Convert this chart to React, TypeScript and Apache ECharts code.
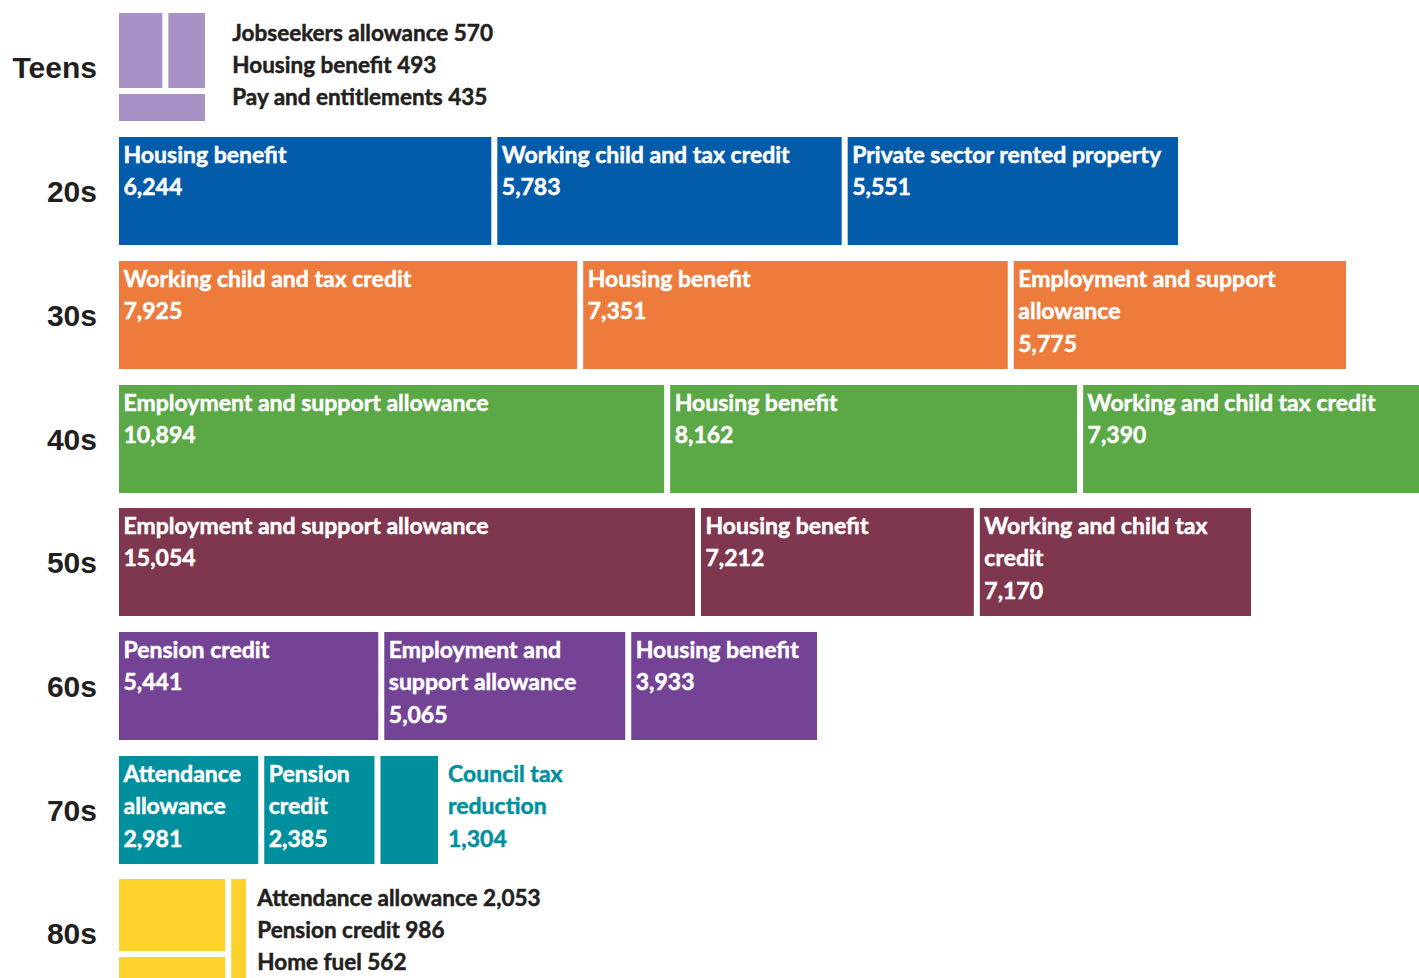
import React, { useEffect, useRef } from 'react';
import * as echarts from 'echarts';

// ---------- data ----------
const ageGroups = ['Teens', '20s', '30s', '40s', '50s', '60s', '70s', '80s'];

const teensNames = ['Jobseekers allowance', 'Housing benefit', 'Pay and entitlements'];
const teensValues = [570, 493, 435];

const names20s = ['Housing benefit', 'Working child and tax credit', 'Private sector rented property'];
const values20s = [6244, 5783, 5551];

const names30s = ['Working child and tax credit', 'Housing benefit', 'Employment and support\nallowance'];
const values30s = [7925, 7351, 5775];

const names40s = ['Employment and support allowance', 'Housing benefit', 'Working and child tax credit'];
const values40s = [10894, 8162, 7390];

const names50s = ['Employment and support allowance', 'Housing benefit', 'Working and child tax\ncredit'];
const values50s = [15054, 7212, 7170];

const names60s = ['Pension credit', 'Employment and\nsupport allowance', 'Housing benefit'];
const values60s = [5441, 5065, 3933];

const names70s = ['Attendance\nallowance', 'Pension\ncredit', 'Council tax\nreduction'];
const values70s = [2981, 2385, 1304];

const names80s = ['Attendance allowance', 'Pension credit', 'Home fuel'];
const values80s = [2053, 986, 562];

// ---------- styles / layout ----------
const rowColors = ['#a891c4', '#035ca9', '#ec7b3c', '#5ba846', '#7f364f', '#744396', '#008f9c', '#fdd22c'];
const DARK = '#231f20';
const LABEL_FONT = "Lato, 'DejaVu Sans Condensed', sans-serif";
const ROW_FONT = "'Liberation Sans', Arial, sans-serif";
const ROW_TOPS = [13, 137, 261, 385, 508, 632, 756, 879];
const BAR_ROW_WIDTHS = [1065, 1233, 1338, 1138, 704, 325];
const LEFT = 119;
const BAR_H = 108;
const GAP = 6;

const fmt = (v: number) => v.toLocaleString('en-US');

const barRows = [
  { names: names20s, values: values20s },
  { names: names30s, values: values30s },
  { names: names40s, values: values40s },
  { names: names50s, values: values50s },
  { names: names60s, values: values60s },
  { names: names70s, values: values70s },
];

function buildOption() {
  const grid: any[] = [];
  const xAxis: any[] = [];
  const yAxis: any[] = [];
  const series: any[] = [];

  ageGroups.forEach((age, i) => {
    const isBarRow = i >= 1 && i <= 6;
    const total = isBarRow ? barRows[i - 1].values.reduce((a, b) => a + b, 0) : 1;
    grid.push({
      left: LEFT - GAP / 2,
      top: ROW_TOPS[i] - GAP / 2,
      height: BAR_H + GAP,
      width: isBarRow ? BAR_ROW_WIDTHS[i - 1] : 100,
      outerBoundsMode: 'none',
      containLabel: false,
    });
    xAxis.push({ type: 'value', gridIndex: i, min: 0, max: total, show: false });
    yAxis.push({
      type: 'category',
      gridIndex: i,
      data: [age],
      axisLine: { show: false },
      axisTick: { show: false },
      splitLine: { show: false },
      axisLabel: {
        margin: 19,
        fontSize: 30,
        fontWeight: 'bold',
        fontFamily: ROW_FONT,
        color: DARK,
      },
    });
    if (isBarRow) {
      const row = barRows[i - 1];
      row.values.forEach((v, j) => {
        const outside = i === 6 && j === 2;
        const txtColor = outside ? rowColors[i] : '#ffffff';
        series.push({
          type: 'bar',
          xAxisIndex: i,
          yAxisIndex: i,
          stack: 'row' + i,
          barWidth: BAR_H + GAP,
          silent: true,
          itemStyle: { color: rowColors[i], borderColor: '#ffffff', borderWidth: GAP / 2 },
          label: {
            show: true,
            position: outside ? ['100%', 3.5] : [7.5, 3.5],
            offset: outside ? [7, 0] : [0, 0],
            align: 'left',
            verticalAlign: 'top',
            formatter: () => row.names[j] + '\n' + fmt(v),
            color: txtColor,
            textBorderColor: txtColor,
            textBorderWidth: 0.5,
            fontFamily: LABEL_FONT,
            fontWeight: 'bold',
            fontSize: 23,
            lineHeight: 32.5,
          },
          data: [{ value: v, name: row.names[j] }],
        });
      });
    }
  });

  const treemapBase = {
    type: 'treemap',
    roam: false,
    nodeClick: false,
    silent: true,
    breadcrumb: { show: false },
    label: { show: false },
    upperLabel: { show: false },
    itemStyle: { gapWidth: GAP, borderWidth: 0 },
  };

  series.push({
    ...treemapBase,
    left: LEFT,
    top: ROW_TOPS[0],
    width: 86,
    height: BAR_H,
    data: teensNames.map((n, k) => ({ name: n, value: teensValues[k], itemStyle: { color: rowColors[0] } })),
  });
  series.push({
    ...treemapBase,
    left: LEFT,
    top: ROW_TOPS[7],
    width: 127,
    height: 109.5,
    data: names80s.map((n, k) => ({ name: n, value: values80s[k], itemStyle: { color: rowColors[7] } })),
  });

  const textStyle = {
    fontFamily: LABEL_FONT,
    fontWeight: 'bold',
    fontSize: 22.5,
    lineHeight: 31.8,
    fill: DARK,
    stroke: DARK,
    lineWidth: 0.5,
  };

  const graphic = [
    {
      type: 'text',
      left: 232,
      top: 17,
      silent: true,
      style: { ...textStyle, text: teensNames.map((n, k) => n + ' ' + fmt(teensValues[k])).join('\n') },
    },
    {
      type: 'text',
      left: 257,
      top: 882,
      silent: true,
      style: { ...textStyle, text: names80s.map((n, k) => n + ' ' + fmt(values80s[k])).join('\n') },
    },
  ];

  return {
    animation: false,
    backgroundColor: '#ffffff',
    grid,
    xAxis,
    yAxis,
    series,
    graphic,
  };
}

export default function App() {
  const ref = useRef<HTMLDivElement>(null);
  useEffect(() => {
    if (!ref.current) return;
    const chart = echarts.init(ref.current, undefined, { renderer: 'svg' });
    chart.setOption(buildOption() as any);
    return () => chart.dispose();
  }, []);
  return (
    <div
      ref={ref}
      style={{ position: 'absolute', left: 0, top: 0, width: 1419, height: 978, background: '#ffffff' }}
    />
  );
}
